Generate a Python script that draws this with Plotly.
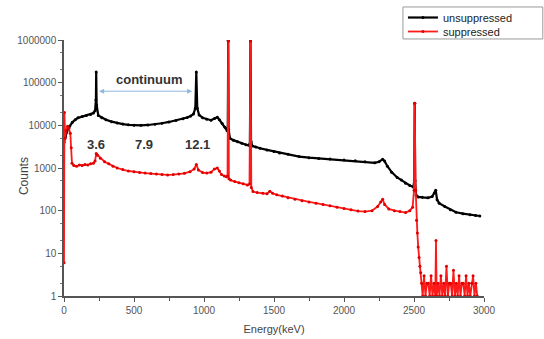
import plotly.graph_objects as go

# Unsuppressed spectrum (black)
e_unsup = [0, 10, 20, 40, 60, 80, 100, 130, 160, 190, 210, 222, 228, 230, 233, 245, 270, 300, 340, 380,
           420, 460, 500, 550, 600, 650, 700, 750, 800, 850, 880, 905, 925, 938, 945, 952, 965, 990, 1020,
           1050, 1075, 1095, 1110, 1130, 1150, 1165, 1170, 1173, 1176, 1185, 1210, 1240, 1270, 1300, 1320,
           1328, 1332, 1336, 1345, 1370, 1400, 1450, 1500, 1540, 1600, 1680, 1750, 1820, 1900, 2000, 2080,
           2150, 2220, 2250, 2276, 2290, 2310, 2340, 2380, 2410, 2440, 2470, 2495, 2502, 2505, 2508, 2515,
           2530, 2560, 2600, 2630, 2645, 2655, 2665, 2680, 2720, 2760, 2800, 2850, 2900, 2940, 2970]
c_unsup = [4000, 5500, 7000, 9500, 11800, 13500, 15000, 16000, 17000, 18000, 19500, 22000, 40000, 177000,
           30000, 17000, 15000, 13500, 12200, 11300, 10700, 10300, 10000, 10000, 10200, 10600, 11200, 12000,
           13000, 14300, 15300, 16500, 18500, 25000, 177000, 25000, 17500, 15000, 13800, 13200, 14500, 15500,
           13500, 11000, 9000, 7500, 8500, 950000, 8000, 5000, 4500, 4100, 3800, 3500, 3400, 3700, 950000,
           4200, 3300, 3100, 2900, 2650, 2450, 2250, 2100, 1850, 1750, 1680, 1620, 1530, 1470, 1400, 1320,
           1400, 1600, 1450, 1100, 800, 600, 520, 440, 390, 360, 500, 33000, 500, 230, 210, 205, 200, 215,
           260, 300, 180, 150, 125, 105, 92, 85, 80, 77, 75]

# Suppressed spectrum (red)
e_sup = [0, 3, 8, 15, 25, 35, 45, 52, 57, 70, 90, 110, 130, 150, 170, 190, 210, 222, 230, 240, 260, 290,
         320, 350, 380, 420, 460, 500, 540, 580, 620, 660, 700, 740, 780, 820, 860, 900, 930, 945, 960, 990,
         1020, 1050, 1075, 1095, 1110, 1125, 1145, 1160, 1168, 1173, 1178, 1190, 1220, 1250, 1280, 1310,
         1325, 1332, 1338, 1350, 1380, 1420, 1450, 1470, 1490, 1520, 1560, 1600, 1650, 1700, 1750, 1800,
         1850, 1900, 1950, 2000, 2050, 2100, 2150, 2200, 2240, 2262, 2276, 2290, 2320, 2360, 2400, 2440,
         2470, 2490, 2500, 2505, 2512, 2518, 2524, 2530, 2536, 2542, 2548, 2555,
         2562, 2572, 2582, 2592, 2602, 2612, 2622, 2632, 2642, 2652, 2657, 2662, 2672, 2682, 2692, 2702,
         2712, 2722, 2732, 2742, 2752, 2762, 2772, 2782, 2792, 2802, 2812, 2822, 2832, 2842, 2852, 2862,
         2872, 2882, 2892, 2902, 2912, 2922, 2932, 2942, 2952]
c_sup = [6, 20000, 5000, 7500, 9500, 8500, 6500, 3000, 1300, 1150, 1100, 1180, 1150, 1200, 1180, 1250,
         1300, 1450, 2200, 2000, 1700, 1400, 1250, 1100, 1000, 920, 850, 820, 780, 760, 740, 720, 700, 690,
         700, 720, 750, 820, 950, 1200, 900, 780, 760, 800, 950, 1000, 850, 700, 650, 620, 650, 950000, 560,
         520, 480, 450, 430, 400, 420, 950000, 350, 280, 265, 255, 250, 285, 255, 235, 220, 200, 185, 170,
         160, 150, 140, 130, 120, 112, 105, 98, 95, 100, 125, 160, 185, 140, 110, 100, 95, 90, 100, 120, 300,
         33000, 300, 60, 30, 14, 8, 5, 3.5, 2,
         1, 3, 1, 2, 2, 1, 3, 1, 2, 1, 20, 1, 2, 1, 3, 1,
         2, 1, 5, 1, 2, 2, 1, 4, 1, 2, 1, 3, 1, 2, 2, 1,
         3, 1, 2, 1, 2, 3, 1, 2, 1]

x_ticks = [0, 500, 1000, 1500, 2000, 2500, 3000]
y_ticks = [1, 10, 100, 1000, 10000, 100000, 1000000]
y_ticktext = ["1", "10", "100", "1000", "10000", "100000", "1000000"]

fig = go.Figure()
fig.add_trace(go.Scatter(x=e_unsup, y=c_unsup, name="unsuppressed", mode="lines+markers", legend="legend",
                         line=dict(color="black", width=2.2), marker=dict(color="black", size=3)))
fig.add_trace(go.Scatter(x=e_sup, y=c_sup, name="suppressed", mode="lines+markers", legend="legend2",
                         line=dict(color="#ff1a1a", width=1.8), marker=dict(color="#e00000", size=3)))

font_fam = "Liberation Sans, Arial, sans-serif"
leg_common = dict(xanchor="left", yanchor="top", borderwidth=0, bgcolor="rgba(0,0,0,0)",
                  font=dict(size=11, color="#222"))
fig.update_layout(
    width=544, height=339,
    margin=dict(l=64, r=60, t=40, b=43, autoexpand=False),
    paper_bgcolor="white", plot_bgcolor="white",
    font=dict(family=font_fam, color="#444"),
    showlegend=True,
    legend=dict(x=0.807, y=1.1445, **leg_common),
    legend2=dict(x=0.807, y=1.0898, **leg_common),
    xaxis=dict(range=[0, 3000], tickvals=x_ticks, showgrid=False, zeroline=False, automargin=False,
               showline=True, linecolor="#555", linewidth=1.5, ticks="outside", ticklen=4,
               tickcolor="#555", tickfont=dict(size=10, color="#555"),
               minor=dict(dtick=250, ticks="outside", ticklen=3, tickcolor="#555"),
               title=dict(text="Energy(keV)", font=dict(size=11, color="#444"), standoff=11)),
    yaxis=dict(type="log", range=[0, 6], tickvals=y_ticks, ticktext=y_ticktext, showgrid=False,
               zeroline=False, showline=True, linecolor="#555", linewidth=1.5, ticks="outside",
               ticklen=4, tickcolor="#555", tickfont=dict(size=10, color="#555"), automargin=False,
               minor=dict(ticks="outside", ticklen=2, tickcolor="#777")),
)

# legend frame
fig.add_shape(type="rect", xref="paper", yref="paper", x0=0.807, x1=1.14, y0=1.004, y1=1.129,
              line=dict(color="#999", width=1), fillcolor="rgba(0,0,0,0)", layer="below")

fig.add_annotation(x=-0.118, y=0.47, xref="paper", yref="paper", text="Counts", textangle=-90,
                   showarrow=False, font=dict(size=12, color="#444"))

lbl_font = dict(family="Liberation Sans, Arial, sans-serif", size=13, color="#333")
fig.add_annotation(x=610, y=5.07, xref="x", yref="y", text="<b>continuum</b>", showarrow=False,
                   font=lbl_font)
fig.add_annotation(x=915, y=4.8, ax=240, ay=4.8, xref="x", yref="y", axref="x", ayref="y",
                   text="", showarrow=True, arrowhead=2, startarrowhead=2, arrowside="end+start",
                   arrowsize=1, arrowwidth=1, arrowcolor="#8fb8de")
for txt, xv in [("3.6", 230), ("7.9", 574), ("12.1", 955)]:
    fig.add_annotation(x=xv, y=3.54, xref="x", yref="y", text="<b>" + txt + "</b>",
                       showarrow=False, font=lbl_font)

fig.write_html("out.html")
